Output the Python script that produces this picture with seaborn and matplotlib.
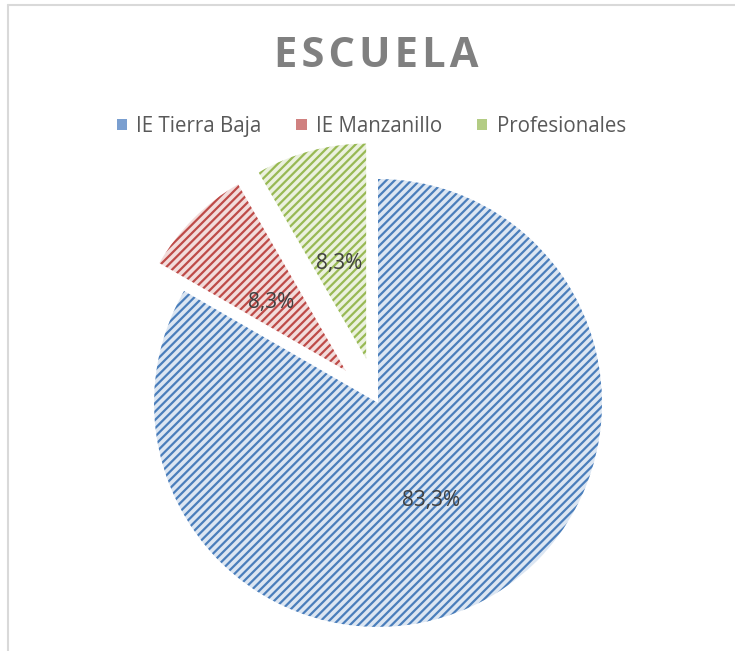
import numpy as np
import matplotlib.pyplot as plt
import matplotlib.patches as mpatches
from matplotlib.lines import Line2D
import seaborn as sns

# Datos (conteos: 10, 1, 1 -> 83,3% / 8,3% / 8,3%)
categorias = ["IE Tierra Baja", "IE Manzanillo", "Profesionales"]
valores = [10, 1, 1]
separacion = [0.0, 0.205, 0.205]

colores = ["#4A7EBB", "#BE4B48", "#98B954"]
rellenos = ["#DCE6F2", "#F2DCDB", "#EBF1DE"]
marcas = ["#7A9FD0", "#D08180", "#B3CC84"]

sns.set_theme(style="white")
plt.rcParams["font.family"] = ["Open Sans", "DejaVu Sans"]
plt.rcParams["hatch.linewidth"] = 1.6

fig = plt.figure(figsize=(7.35, 6.51), dpi=100)
ax = fig.add_axes([0.1333, -0.049, 0.762, 0.860])

wedges, textos, autotextos = ax.pie(
    valores,
    explode=separacion,
    startangle=90,
    counterclock=False,
    colors=rellenos,
    autopct=lambda p: f"{p:.1f}%".replace(".", ","),
    pctdistance=0.47,
    textprops={"fontsize": 15, "color": "#404040"},
)
for i, (w, c) in enumerate(zip(wedges, colores)):
    w.set_edgecolor(c)
    w.set_linewidth(0)
    w.set_hatch("////")
    if separacion[i] > 0:
        w.set_radius(0.96)
# etiquetas un poco más abajo, como en el original
for t in autotextos:
    t.set_y(t.get_position()[1] - 0.028)
ax.set_xlim(-1.25, 1.25)
ax.set_ylim(-1.25, 1.25)
ax.set_aspect("equal")

titulo = "\u200a".join("ESCUELA")
fig.text(0.512, 0.913, titulo, ha="center", va="center",
         fontsize=30, fontweight="bold", color="#808080")

handles = [mpatches.Patch(facecolor=m, edgecolor="none") for m in marcas]
fig.legend(handles, categorias, loc="center", bbox_to_anchor=(0.505, 0.806),
           ncol=3, frameon=False, fontsize=14.8, labelcolor="#595959",
           handlelength=0.5, handleheight=0.5, handletextpad=0.45,
           columnspacing=1.7)

# marco parcial
fig.add_artist(Line2D([0.0105, 1.0], [0.9925, 0.9925], color="#D9D9D9", lw=1.5))
fig.add_artist(Line2D([0.0105, 0.0105], [0.0, 0.9925], color="#D9D9D9", lw=1.5))

fig.savefig("out.png", dpi=100, facecolor="white")
